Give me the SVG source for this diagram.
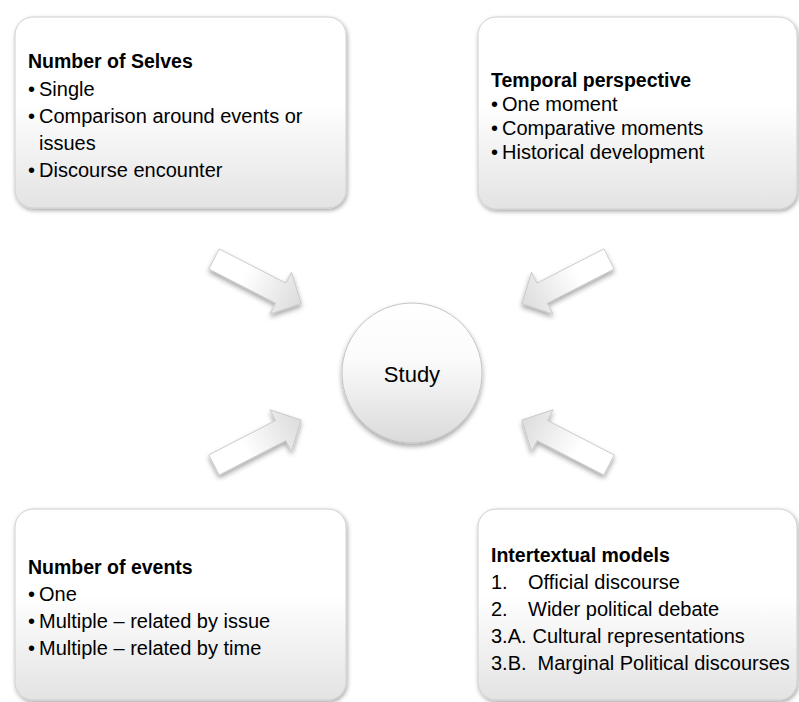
<svg xmlns="http://www.w3.org/2000/svg" width="799" height="702" viewBox="0 0 799 702">
  <defs>
    <linearGradient id="boxFill" x1="0" y1="0" x2="0" y2="1">
      <stop offset="0" stop-color="#ffffff"/>
      <stop offset="0.45" stop-color="#ffffff"/>
      <stop offset="1" stop-color="#e3e3e3"/>
    </linearGradient>
    <linearGradient id="circleFill" x1="0" y1="0" x2="0" y2="1">
      <stop offset="0" stop-color="#ffffff"/>
      <stop offset="0.4" stop-color="#fbfbfb"/>
      <stop offset="1" stop-color="#dadada"/>
    </linearGradient>
    <linearGradient id="arrowFill" x1="0" y1="0" x2="1" y2="0">
      <stop offset="0" stop-color="#ffffff"/>
      <stop offset="0.35" stop-color="#ffffff"/>
      <stop offset="1" stop-color="#dcdcdc"/>
    </linearGradient>
    <filter id="boxShadow" x="-10%" y="-10%" width="120%" height="125%">
      <feDropShadow dx="1" dy="2" stdDeviation="2" flood-color="#000" flood-opacity="0.35"/>
    </filter>
    <filter id="softShadow" x="-30%" y="-30%" width="160%" height="170%">
      <feDropShadow dx="0" dy="3" stdDeviation="2.5" flood-color="#000" flood-opacity="0.35"/>
    </filter>
    <!-- block arrow, tail at origin, pointing along +x -->
    <polygon id="blockArrow" points="0,-11.3 75,-11.3 75,-23.5 98,0 75,23.5 75,11.3 0,11.3"/>
  </defs>
  <style>
    .box { fill: url(#boxFill); stroke: #cfcfcf; stroke-width: 1; filter: url(#boxShadow); }
    .hub { fill: url(#circleFill); stroke: #c4c4c4; stroke-width: 1; filter: url(#softShadow); }
    .arrow { fill: url(#arrowFill); stroke: #c6c6c6; stroke-width: 0.8; }
    text { font-family: "Liberation Sans", Arial, sans-serif; font-size: 20px; fill: #000; }
    .title { font-weight: bold; font-size: 19.5px; }
    .center { font-size: 22px; text-anchor: middle; }
  </style>

  <rect width="799" height="702" fill="#ffffff"/>

  <!-- block arrows converging on the hub -->
  <g id="connectors">
    <g filter="url(#softShadow)"><use href="#blockArrow" class="arrow" transform="translate(214,259) rotate(27.1)"/></g>
    <g filter="url(#softShadow)"><use href="#blockArrow" class="arrow" transform="translate(609,259) rotate(152.9)"/></g>
    <g filter="url(#softShadow)"><use href="#blockArrow" class="arrow" transform="translate(214,465) rotate(-27.3)"/></g>
    <g filter="url(#softShadow)"><use href="#blockArrow" class="arrow" transform="translate(609,465) rotate(-152.7)"/></g>
  </g>

  <g id="study">
    <circle class="hub" cx="412" cy="373" r="70"/>
    <text class="center" x="412" y="382">Study</text>
  </g>

  <g id="number-of-selves">
    <rect class="box" x="15" y="17" width="331" height="191" rx="18"/>
    <text class="title" x="28" y="68">Number of Selves</text>
    <text x="28" y="95.5">•</text><text x="39" y="95.5">Single</text>
    <text x="28" y="123">•</text><text x="39" y="123">Comparison around events or</text>
    <text x="39" y="150">issues</text>
    <text x="28" y="177">•</text><text x="39" y="177">Discourse encounter</text>
  </g>

  <g id="temporal-perspective">
    <rect class="box" x="478" y="17" width="319" height="192" rx="18"/>
    <text class="title" x="491" y="87">Temporal perspective</text>
    <text x="491" y="111">•</text><text x="502" y="111">One moment</text>
    <text x="491" y="135">•</text><text x="502" y="135">Comparative moments</text>
    <text x="491" y="159">•</text><text x="502" y="159">Historical development</text>
  </g>

  <g id="number-of-events">
    <rect class="box" x="15" y="509" width="331" height="191" rx="18"/>
    <text class="title" x="28" y="574">Number of events</text>
    <text x="28" y="601">•</text><text x="39" y="601">One</text>
    <text x="28" y="628">•</text><text x="39" y="628">Multiple – related by issue</text>
    <text x="28" y="655">•</text><text x="39" y="655">Multiple – related by time</text>
  </g>

  <g id="intertextual-models">
    <rect class="box" x="478" y="509" width="319" height="191" rx="18"/>
    <text class="title" x="491" y="562">Intertextual models</text>
    <text x="491" y="589">1.</text><text x="528" y="589">Official discourse</text>
    <text x="491" y="616">2.</text><text x="528" y="616">Wider political debate</text>
    <text x="491" y="643">3.A.</text><text x="532.5" y="643">Cultural representations</text>
    <text x="491" y="670">3.B.</text><text x="537.5" y="670">Marginal Political discourses</text>
  </g>
</svg>
